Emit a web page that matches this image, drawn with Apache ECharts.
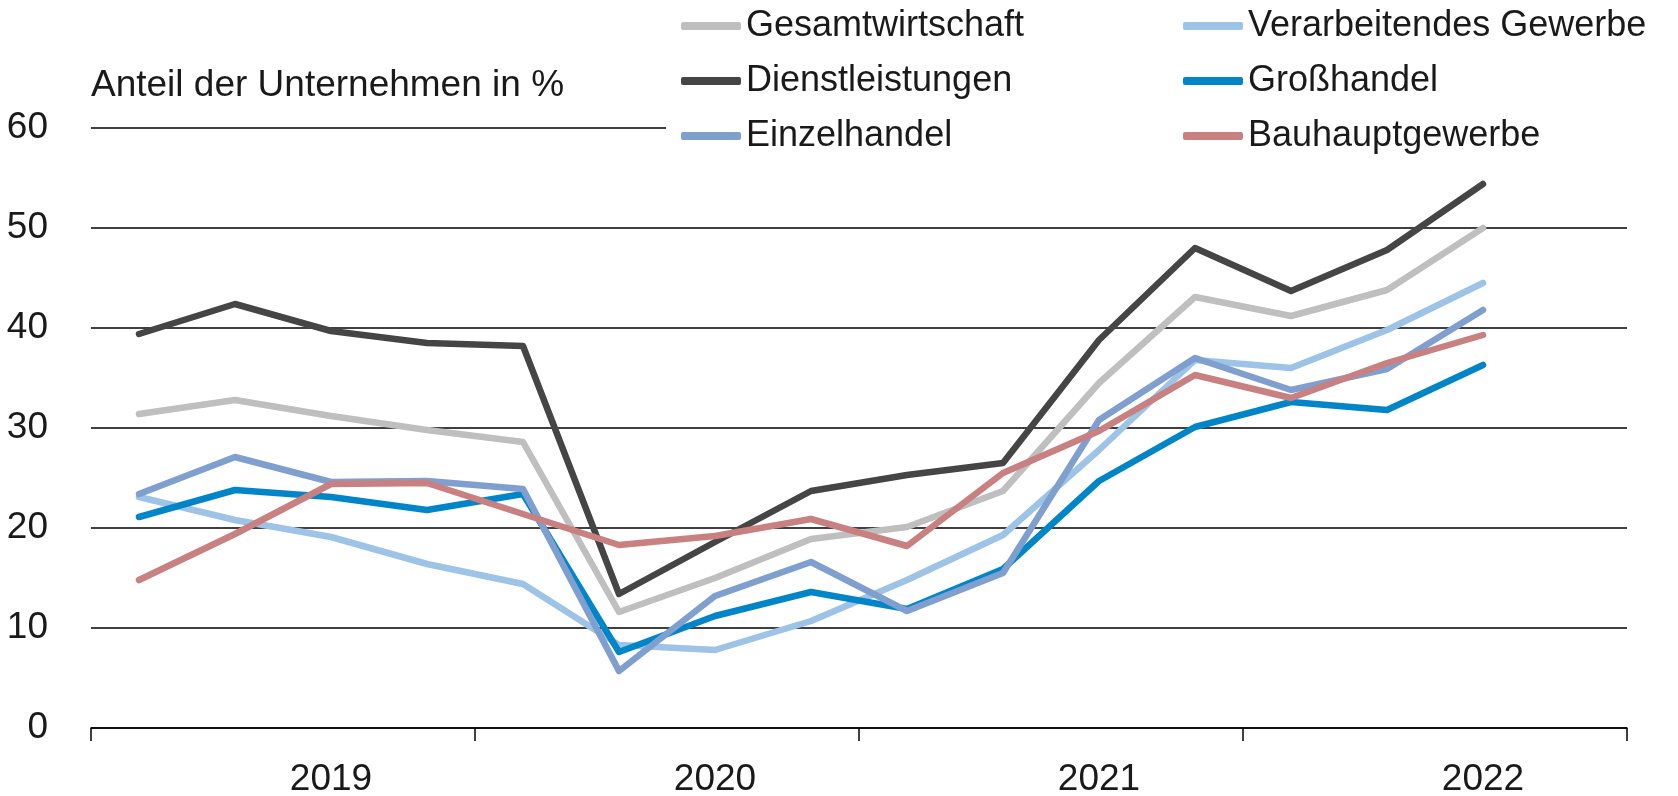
<!DOCTYPE html>
<html>
<head>
<meta charset="utf-8">
<script src="https://cdn.jsdelivr.net/npm/echarts@6/dist/echarts.min.js"></script>
<style>
  html, body { margin: 0; padding: 0; background: #fff; }
  #chart { width: 1678px; height: 796px; }
</style>
</head>
<body>
<div id="chart"></div>
<script>
// quarters 2019 Q1 .. 2022 Q4 (last quarter has no value yet)
var quarters = ['2019 Q1', '2019 Q2', '2019 Q3', '2019 Q4',
	'2020 Q1', '2020 Q2', '2020 Q3', '2020 Q4',
	'2021 Q1', '2021 Q2', '2021 Q3', '2021 Q4',
	'2022 Q1', '2022 Q2', '2022 Q3', '2022 Q4'];

var gesamtwirtschaft = [31.4, 32.8, 31.2, 29.8, 28.6, 11.6, 15.0, 18.9, 20.1, 23.7, 34.5, 43.1, 41.2, 43.8, 50.0];
var verarbeitendes   = [23.1, 20.8, 19.1, 16.4, 14.4, 8.3, 7.8, 10.7, 14.8, 19.3, 27.8, 36.8, 36.0, 39.8, 44.5];
var dienstleistungen = [39.4, 42.4, 39.7, 38.5, 38.2, 13.4, 18.6, 23.7, 25.3, 26.5, 38.8, 48.0, 43.7, 47.8, 54.4];
var grosshandel      = [21.1, 23.8, 23.1, 21.8, 23.4, 7.6, 11.2, 13.6, 11.9, 15.9, 24.7, 30.1, 32.6, 31.8, 36.3];
var einzelhandel     = [23.4, 27.1, 24.6, 24.7, 23.9, 5.7, 13.2, 16.6, 11.7, 15.5, 30.8, 37.0, 33.8, 35.9, 41.8];
var bauhaupt         = [14.8, 19.4, 24.4, 24.5, 21.4, 18.3, 19.2, 20.9, 18.2, 25.5, 29.7, 35.3, 33.0, 36.5, 39.3];

var yTicks = [0, 10, 20, 30, 40, 50, 60];

var FONT = '"Liberation Sans", Arial, sans-serif';
var TXT = '#1a1a1a';

function line(name, data, color) {
	return {
		name: name,
		type: 'line',
		data: data,
		symbol: 'none',
		lineStyle: { color: color, width: 6.5, cap: 'round', join: 'round' },
		itemStyle: { color: color },
		emphasis: { disabled: true }
	};
}

var chart = echarts.init(document.getElementById('chart'));
var option = {
	animation: false,
	textStyle: { fontFamily: FONT },
	grid: { left: 91, right: 51, top: 128, bottom: 68, outerBoundsMode: 'none' },
	legend: {
		left: 666,
		top: 0,
		width: 1000,
		padding: [7, 10, 8, 15],
		backgroundColor: '#fff',
		itemWidth: 60,
		itemHeight: 8,
		itemGap: 17,
		icon: 'roundRect',
		textStyle: { fontFamily: FONT, fontSize: 36, color: TXT, width: 420, lineHeight: 38 }
	},
	xAxis: {
		type: 'category',
		data: quarters,
		boundaryGap: true,
		axisLine: { lineStyle: { color: '#000', width: 1.5 } },
		axisTick: {
			show: true,
			length: 13,
			lineStyle: { color: '#000', width: 1.5 },
			interval: 3
		},
		axisLabel: {
			interval: function (i) { return i % 4 === 2; },
			formatter: function (v) { return v.slice(0, 4); },
			margin: 33,
			fontSize: 37,
			color: TXT,
			fontFamily: FONT
		},
		splitLine: { show: false }
	},
	yAxis: {
		type: 'value',
		min: yTicks[0],
		max: yTicks[yTicks.length - 1],
		interval: 10,
		name: 'Anteil der Unternehmen in %',
		nameLocation: 'end',
		nameGap: 42,
		nameTextStyle: { fontSize: 37, color: TXT, align: 'left', verticalAlign: 'middle', fontFamily: FONT },
		axisLine: { show: false },
		axisTick: { show: false },
		axisLabel: { fontSize: 37, color: TXT, margin: 43, fontFamily: FONT },
		splitLine: { lineStyle: { color: '#000', width: 1.5 } }
	},
	series: [
		line('Gesamtwirtschaft', gesamtwirtschaft, '#bfbfbf'),
		line('Verarbeitendes Gewerbe', verarbeitendes, '#9dc3e6'),
		line('Dienstleistungen', dienstleistungen, '#454545'),
		line('Großhandel', grosshandel, '#0086c8'),
		line('Einzelhandel', einzelhandel, '#7f9fcf'),
		line('Bauhauptgewerbe', bauhaupt, '#c98080')
	]
};
chart.setOption(option);
</script>
</body>
</html>
